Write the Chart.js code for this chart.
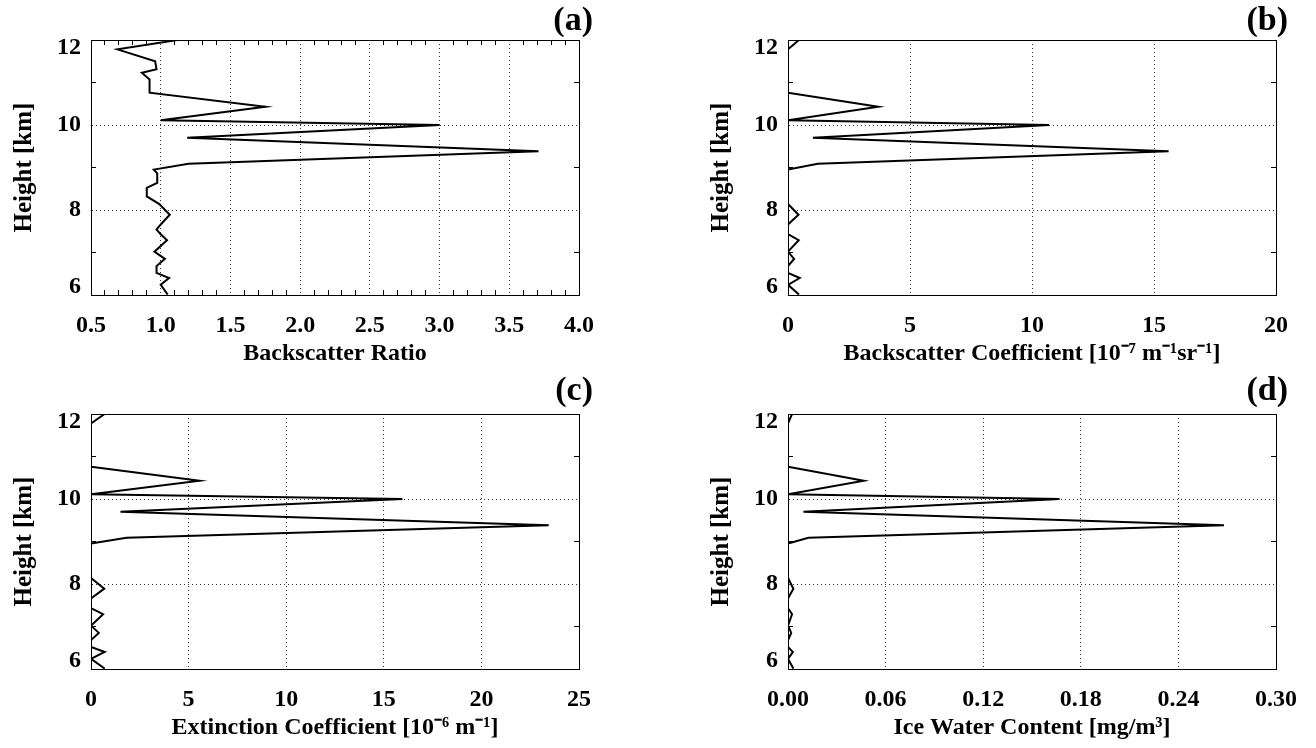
<!DOCTYPE html>
<html>
<head>
<meta charset="utf-8">
<title>Cirrus profile</title>
<script src="https://cdn.jsdelivr.net/npm/chart.js@4.4.1/dist/chart.umd.min.js"></script>
<style>
  html, body { margin: 0; padding: 0; background: #fff; }
  #wrap { position: relative; width: 1316px; height: 748px; }
  canvas { position: absolute; }
</style>
</head>
<body>
<div id="wrap">
  <canvas id="panelA" width="658" height="374" style="left:0;top:0"></canvas>
  <canvas id="panelB" width="658" height="374" style="left:658px;top:0"></canvas>
  <canvas id="panelC" width="658" height="374" style="left:0;top:374px"></canvas>
  <canvas id="panelD" width="658" height="374" style="left:658px;top:374px"></canvas>
</div>
<script>
// profile levels, km
const heights = [12.00, 11.78, 11.50, 11.31, 11.23, 11.07, 10.76, 10.43, 10.11, 10.00,
                 9.70, 9.38, 9.09, 8.95, 8.86, 8.64, 8.52, 8.32, 8.14, 7.89,
                 7.66, 7.54, 7.43, 7.29, 7.02, 6.85, 6.68, 6.52, 6.40, 6.24, 6.01];

const backscatterRatio = [1.12, 0.69, 0.96, 0.97, 0.865, 0.92, 0.92, 1.75, 1.00, 3.00,
                          1.19, 3.71, 1.20, 0.95, 0.975, 0.975, 0.90, 0.90, 0.99, 1.065,
                          1.00, 0.97, 1.00, 1.045, 0.955, 1.03, 0.97, 0.97, 1.06, 1.00, 1.05];

const backscatterCoef = [0.45, 0, 0, 0, 0, 0, 0, 3.70, 0, 10.7,
                         1.02, 15.6, 1.22, 0, 0, 0, 0, 0, 0, 0.43,
                         0, 0, 0, 0.44, 0, 0.25, 0, 0, 0.48, 0, 0.45];

const extinctionCoef = [0.70, 0, 0, 0, 0, 0, 0, 5.56, 0, 15.95,
                        1.51, 23.45, 1.82, 0, 0, 0, 0, 0, 0, 0.68,
                        0, 0, 0, 0.62, 0, 0.40, 0, 0, 0.70, 0, 0.70];

const iceWaterContent = [0.0025, 0, 0, 0, 0, 0, 0, 0.0466, 0, 0.167,
                         0.0095, 0.268, 0.0125, 0, 0, 0, 0, 0, 0, 0.0033,
                         0, 0, 0, 0.0025, 0, 0.002, 0, 0, 0.003, 0, 0.0033];

// labelled ticks
const heightTicks = [6, 8, 10, 12];
const ratioTicks = [0.5, 1.0, 1.5, 2.0, 2.5, 3.0, 3.5, 4.0];
const coefTicks = [0, 5, 10, 15, 20];
const extTicks = [0, 5, 10, 15, 20, 25];
const iwcTicks = [0, 0.06, 0.12, 0.18, 0.24, 0.30];

const FAMILY = 'Liberation Serif';
const DOTS = '#333';

function near(list, v, eps) {
  return list.some(t => Math.abs(t - v) < eps);
}

// fixed axis sizes so every panel gets the same plot box
function fixSize(w, h) {
  return scale => {
    if (w !== undefined) scale.width = w;
    if (h !== undefined) scale.height = h;
    scale.paddingLeft = scale.paddingRight = scale.paddingTop = scale.paddingBottom = 0;
  };
}

function makePanel(id, cfg) {
  const xMin = cfg.ticks[0];
  const xMax = cfg.ticks[cfg.ticks.length - 1];
  const eps = cfg.step / 10;
  const yMin = heightTicks[0];
  const yMax = heightTicks[heightTicks.length - 1];

  const gridX = c => !!c.tick && near(cfg.ticks, c.tick.value, eps) &&
    c.tick.value > xMin + eps && c.tick.value < xMax - eps;
  const gridY = c => !!c.tick && near(heightTicks, c.tick.value, 0.01) &&
    c.tick.value > yMin && c.tick.value < yMax;

  const xGrid = {
    color: c => gridX(c) ? DOTS : 'transparent',
    tickColor: c => (!c.tick || gridX(c)) ? 'transparent' : '#000',
    tickLength: -5,
    lineWidth: 1
  };
  const yGrid = {
    color: c => gridY(c) ? DOTS : 'transparent',
    tickColor: c => (!c.tick || gridY(c)) ? 'transparent' : '#000',
    tickLength: -5,
    lineWidth: 1
  };
  const border = { color: '#000', width: 1, dash: [1, 3] };
  const tickFont = { family: FAMILY, size: 24, weight: 'bold' };
  const titleFont = { family: FAMILY, size: 24, weight: 'bold' };

  new Chart(document.getElementById(id), {
    type: 'scatter',
    data: {
      datasets: [{
        data: heights.map((h, i) => ({ x: cfg.values[i], y: h })),
        showLine: true,
        borderColor: '#000',
        borderWidth: 2,
        pointRadius: 0,
        tension: 0,
        xAxisID: 'x',
        yAxisID: 'y'
      }]
    },
    options: {
      responsive: false,
      animation: false,
      layout: { padding: { left: 0, right: cfg.padRight, top: 0, bottom: 0 } },
      plugins: {
        legend: { display: false },
        tooltip: { enabled: false },
        title: {
          display: true,
          text: cfg.label,
          align: 'end',
          color: '#000',
          font: { family: FAMILY, size: 34, weight: 'bold', lineHeight: 1 },
          padding: { top: cfg.labelTop, bottom: 6 - cfg.labelTop }
        }
      },
      scales: {
        x: {
          type: 'linear',
          position: 'bottom',
          min: xMin,
          max: xMax,
          afterFit: fixSize(undefined, 79),
          border: border,
          grid: xGrid,
          ticks: {
            stepSize: cfg.step,
            autoSkip: false,
            maxRotation: 0,
            padding: 21,
            color: '#000',
            font: tickFont,
            callback: v => near(cfg.ticks, v, eps) ? v.toFixed(cfg.decimals) : ''
          },
          title: {
            display: true,
            text: cfg.title,
            color: '#000',
            font: titleFont,
            padding: { top: 0, bottom: 6 }
          }
        },
        x2: {
          type: 'linear',
          position: 'top',
          min: xMin,
          max: xMax,
          afterFit: fixSize(undefined, 0),
          border: border,
          grid: Object.assign({}, xGrid, { drawOnChartArea: false }),
          ticks: { display: false, stepSize: cfg.step, autoSkip: false }
        },
        y: {
          type: 'linear',
          position: 'left',
          min: yMin,
          max: yMax,
          afterFit: fixSize(cfg.yWidth),
          border: border,
          grid: yGrid,
          ticks: {
            stepSize: 1,
            autoSkip: false,
            padding: 15,
            color: '#000',
            // end labels sit a little inside the box
            font: c => {
              const v = c.tick ? c.tick.value : NaN;
              return { family: FAMILY, size: 24, weight: 'bold', lineHeight: (v === yMin || v === yMax) ? 0.68 : 1.2 };
            },
            callback: v => {
              if (!near(heightTicks, v, 0.01)) return '';
              if (v === yMax) return ['', String(v)];
              if (v === yMin) return [String(v), ''];
              return String(v);
            }
          },
          title: {
            display: true,
            text: 'Height [km]',
            color: '#000',
            font: { family: FAMILY, size: 25, weight: 'bold' },
            padding: { top: cfg.yTitlePad, bottom: 0 }
          }
        },
        y2: {
          type: 'linear',
          position: 'right',
          min: yMin,
          max: yMax,
          afterFit: fixSize(cfg.rightWidth),
          border: border,
          grid: Object.assign({}, yGrid, { drawOnChartArea: false }),
          ticks: { display: false, stepSize: 1, autoSkip: false }
        }
      }
    }
  });
}

const leftCol = { yWidth: 91, rightWidth: 14, padRight: 65, yTitlePad: 10 };
const rightCol = { yWidth: 130, rightWidth: 12, padRight: 28, yTitlePad: 48.5 };

makePanel('panelA', Object.assign({}, leftCol, {
  label: '(a)', labelTop: 4, values: backscatterRatio,
  ticks: ratioTicks, step: 0.1, decimals: 1,
  title: 'Backscatter Ratio'
}));
makePanel('panelB', Object.assign({}, rightCol, {
  label: '(b)', labelTop: 4, values: backscatterCoef,
  ticks: coefTicks, step: 5, decimals: 0,
  title: 'Backscatter Coefficient [10⁻⁷ m⁻¹sr⁻¹]'
}));
makePanel('panelC', Object.assign({}, leftCol, {
  label: '(c)', labelTop: 0, values: extinctionCoef,
  ticks: extTicks, step: 5, decimals: 0,
  title: 'Extinction Coefficient [10⁻⁶ m⁻¹]'
}));
makePanel('panelD', Object.assign({}, rightCol, {
  label: '(d)', labelTop: 0, values: iceWaterContent,
  ticks: iwcTicks, step: 0.06, decimals: 2,
  title: 'Ice Water Content [mg/m³]'
}));
</script>
</body>
</html>
